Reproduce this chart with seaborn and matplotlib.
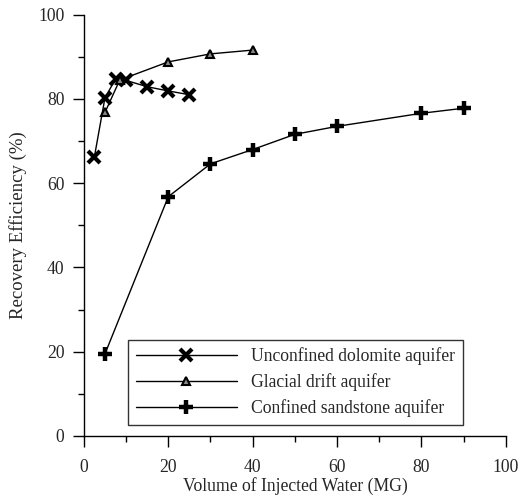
import pandas as pd
import matplotlib
matplotlib.use("Agg")
import matplotlib.pyplot as plt
import seaborn as sns

# values
dolomite_x = [2.5, 5, 7.5, 10, 15, 20, 25]
dolomite_y = [66.3, 80.3, 84.7, 84.4, 82.9, 81.9, 81.0]

glacial_x = [5, 8.5, 20, 30, 40]
glacial_y = [76.8, 84.5, 88.8, 90.7, 91.6]

sandstone_x = [5, 20, 30, 40, 50, 60, 80, 90]
sandstone_y = [19.5, 56.8, 64.6, 68.0, 71.6, 73.5, 76.6, 77.8]

labels = ["Unconfined dolomite aquifer", "Glacial drift aquifer", "Confined sandstone aquifer"]

sns.set_style("ticks")
plt.rcParams["font.family"] = ["Liberation Serif", "DejaVu Serif"]
plt.rcParams["xtick.direction"] = "out"
plt.rcParams["ytick.direction"] = "out"

fig = plt.figure(figsize=(5.21, 4.98), dpi=100)
ax = fig.add_axes([0.161, 0.1245, 0.81, 0.846])

sns.lineplot(x=dolomite_x, y=dolomite_y, ax=ax, color="black", lw=1,
             marker="x", markersize=8, markeredgewidth=3, markeredgecolor="black",
             label=labels[0])
sns.lineplot(x=glacial_x, y=glacial_y, ax=ax, color="black", lw=1,
             marker="^", markersize=6, markerfacecolor="#888888",
             markeredgecolor="black", markeredgewidth=1.5, label=labels[1])
sns.lineplot(x=sandstone_x, y=sandstone_y, ax=ax, color="black", lw=1,
             marker="+", markersize=10, markeredgewidth=3.2, markeredgecolor="black",
             label=labels[2])

ax.set_xlim(0, 100)
ax.set_ylim(0, 100)
ax.set_xticks(range(0, 101, 20))
ax.set_xticks(range(10, 100, 20), minor=True)
ax.set_yticks(range(0, 101, 20))
ax.set_yticks(range(10, 100, 20), minor=True)
ax.tick_params(which="major", length=8, width=1, labelsize=12.7, color="black")
ax.tick_params(which="minor", length=4, width=1, color="black")
ax.tick_params(axis="y", pad=6)
ax.tick_params(axis="x", pad=8.5)
sns.despine(ax=ax)
for s in ["left", "bottom"]:
    ax.spines[s].set_color("black")
    ax.spines[s].set_linewidth(1)

ax.set_xlabel("Volume of Injected Water (MG)", fontsize=12.7, labelpad=1)
ax.set_ylabel("Recovery Efficiency (%)", fontsize=13.5, labelpad=8)

leg = ax.legend(loc="lower left", bbox_to_anchor=(0.105, 0.026), fontsize=12.7,
                handlelength=5.7, frameon=True, fancybox=False, borderpad=0.45,
                labelspacing=0.45, handletextpad=0.8, borderaxespad=0)
leg.get_frame().set_edgecolor("black")
leg.get_frame().set_linewidth(1)

fig.savefig("out.png", dpi=100)
